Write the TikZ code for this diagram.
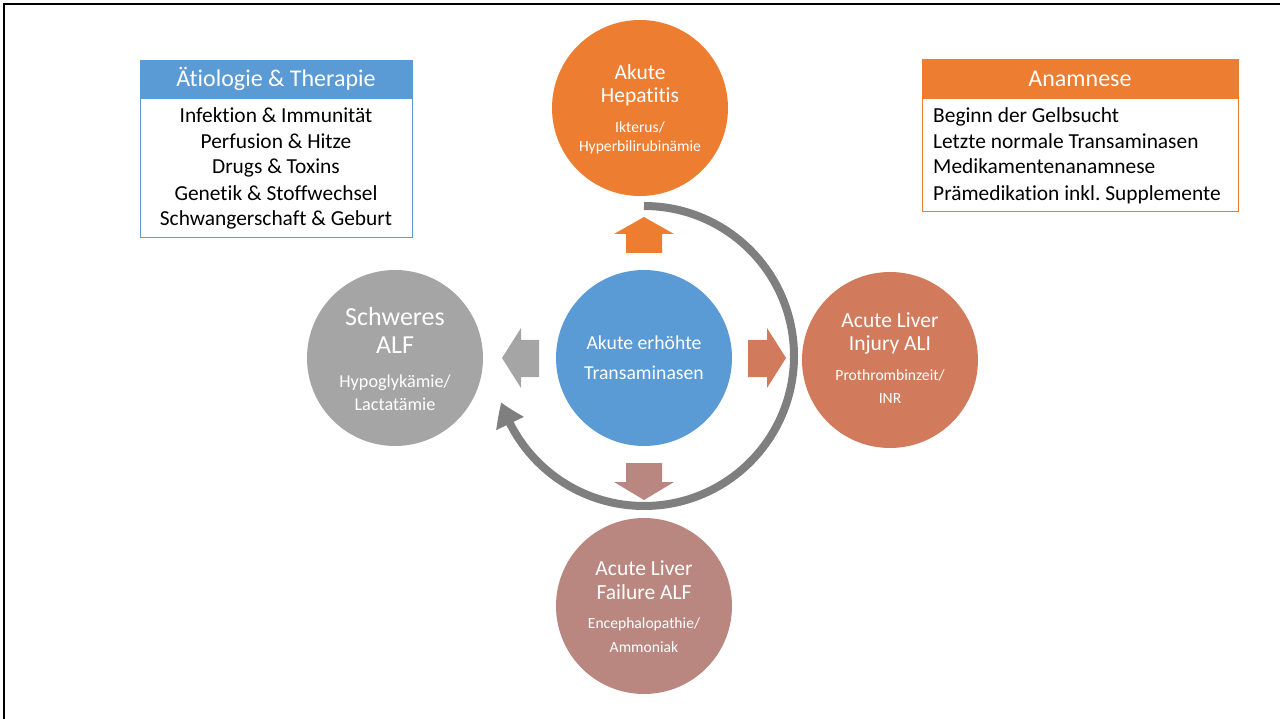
\documentclass[tikz,border=0pt]{standalone}
\usepackage{fontspec}
\setmainfont[Ligatures=NoCommon]{Carlito}
\frenchspacing
\usetikzlibrary{arrows.meta,bending}
\definecolor{corange}{HTML}{ED7D31}
\definecolor{cblue}{HTML}{5B9BD5}
\definecolor{cgray}{HTML}{A5A5A5}
\definecolor{cali}{HTML}{D27B5C}
\definecolor{calf}{HTML}{B9877F}
\definecolor{carc}{HTML}{7F7F7F}
\begin{document}
\begin{tikzpicture}[x=1pt,y=1pt,
  circ/.style={circle,inner sep=0pt,minimum size=176pt,draw=none},
  wt/.style={text=white,anchor=base,inner sep=0pt},
  bk/.style={text=black,anchor=base,inner sep=0pt},
  fbig/.style={font=\fontsize{21.5}{25}\selectfont},
  fgray/.style={font=\fontsize{26}{30}\selectfont},
  fsmall/.style={font=\fontsize{15.6}{18}\selectfont},
  fmid/.style={font=\fontsize{18.2}{20}\selectfont},
  fctr/.style={font=\fontsize{19.7}{23}\selectfont},
  fbox/.style={font=\fontsize{21.4}{25}\selectfont},
  fhead/.style={font=\fontsize{24}{28}\selectfont},
  cycle arc/.style={carc,line width=8pt,-{Triangle[length=23pt,width=29pt,bend]}}
]
\useasboundingbox (0,0) rectangle (1280,-719);
\draw[line width=2.5pt] (4,-719) -- (4,-4) -- (1280,-4);

% boxes
\node[draw=cblue,line width=1pt,minimum width=272pt,minimum height=139pt,inner sep=0pt] (lbody) at (276,-168.5) {};
\node[fill=cblue,draw=cblue,line width=1pt,minimum width=272pt,minimum height=38pt,inner sep=0pt] (lhead) at (276,-80) {};
\node[wt,fhead] (lht) at (276,-87) {Ätiologie \& Therapie};
\node[bk,fbox] (l1) at (276,-123) {Infektion \& Immunität};
\node[bk,fbox] (l2) at (276,-149) {Perfusion \& Hitze};
\node[bk,fbox] (l3) at (276,-174) {Drugs \& Toxins};
\node[bk,fbox] (l4) at (276,-201) {Genetik \& Stoffwechsel};
\node[bk,fbox] (l5) at (276,-226) {Schwangerschaft \& Geburt};

\node[draw=corange,line width=1pt,minimum width=316pt,minimum height=113pt,inner sep=0pt] (rbody) at (1080,-155.5) {};
\node[fill=corange,draw=corange,line width=1pt,minimum width=316pt,minimum height=39pt,inner sep=0pt] (rhead) at (1080,-79.5) {};
\node[wt,fhead] (rht) at (1080,-87) {Anamnese};
\node[bk,fbox,anchor=base west] (r1) at (933,-123) {Beginn der Gelbsucht};
\node[bk,fbox,anchor=base west] (r2) at (933,-149) {Letzte normale Transaminasen};
\node[bk,fbox,anchor=base west] (r3) at (933,-174) {Medikamentenanamnese};
\node[bk,fbox,anchor=base west] (r4) at (933,-201) {Prämedikation inkl. Supplemente};

% circles
\node[circ,fill=corange] (hep) at (640,-108) {};
\node[circ,fill=cblue] (ctr) at (644,-358) {};
\node[circ,fill=cgray] (sch) at (395,-358) {};
\node[circ,fill=cali] (ali) at (890,-360) {};
\node[circ,fill=calf] (alf) at (644,-606) {};

% circle texts
\node[wt,fbig] (hep1) at (640,-80) {Akute};
\node[wt,fbig] (hep2) at (640,-103) {Hepatitis};
\node[wt,fsmall] (hep3) at (640,-133) {Ikterus/};
\node[wt,fsmall] (hep4) at (640,-152) {Hyperbilirubinämie};

\node[wt,fctr] (ctr1) at (644,-349) {Akute erhöhte};
\node[wt,fctr] (ctr2) at (644,-379) {Transaminasen};

\node[wt,fgray] (sch1) at (395,-326) {Schweres};
\node[wt,fgray] (sch2) at (395,-354) {ALF};
\node[wt,fmid] (sch3) at (395,-387) {Hypoglykämie/};
\node[wt,fmid] (sch4) at (395,-410) {Lactatämie};

\node[wt,fbig] (ali1) at (890,-328) {Acute Liver};
\node[wt,fbig] (ali2) at (890,-351) {Injury ALI};
\node[wt,fsmall] (ali3) at (890,-380) {Prothrombinzeit/};
\node[wt,fsmall] (ali4) at (890,-403) {INR};

\node[wt,fbig] (alf1) at (644,-575) {Acute Liver};
\node[wt,fbig] (alf2) at (644,-599) {Failure ALF};
\node[wt,fsmall] (alf3) at (644,-628) {Encephalopathie/};
\node[wt,fsmall] (alf4) at (644,-652) {Ammoniak};

% block arrows
\fill[corange] (626,-253) -- (626,-234) -- (614,-234) -- (644,-217) -- (674,-234) -- (662,-234) -- (662,-253) -- cycle;
\fill[cali] (748,-340) -- (767,-340) -- (767,-328) -- (786,-358) -- (767,-388) -- (767,-377) -- (748,-377) -- cycle;
\fill[cgray] (539,-340) -- (521,-340) -- (521,-328) -- (502,-358) -- (521,-388) -- (521,-377) -- (539,-377) -- cycle;
\fill[calf] (626,-463) -- (662,-463) -- (662,-482) -- (674,-482) -- (644,-500) -- (614,-482) -- (626,-482) -- cycle;

% cycle arc
\coordinate (arcc) at (644,-356);
\draw[cycle arc] ([shift={(90:150)}]arcc) arc[start angle=90,end angle=-162,radius=150];
\end{tikzpicture}
\end{document}
